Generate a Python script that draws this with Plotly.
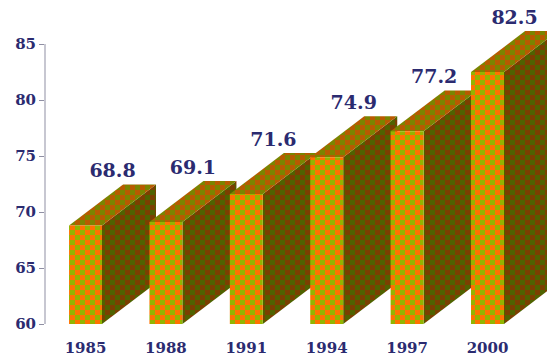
import plotly.graph_objects as go

years = ["1985", "1988", "1991", "1994", "1997", "2000"]
values = [68.8, 69.1, 71.6, 74.9, 77.2, 82.5]
y_ticks = [60, 65, 70, 75, 80, 85]

BAR_W = 0.41
DX = 0.672
DY = 3.66
INK = "#2b2b70"
AXIS = "#8f8fa3"
FONT = dict(family="DejaVu Serif", size=15, color=INK, weight="bold")
LABEL_FONT = dict(family="DejaVu Serif", size=19, color=INK, weight="bold")
FRONT = ("#ff7200", "#93b400")
TOP = ("#b85a00", "#7a8400")
SIDE = ("#7c3f00", "#4f6200")
BASE = 60

fig = go.Figure()


def face(xs, ys, colours):
    fig.add_trace(go.Scatter(
        x=xs + xs[:1], y=ys + ys[:1], mode="lines", fill="toself",
        line=dict(width=0), hoverinfo="skip", showlegend=False,
        fillcolor=colours[1],
        fillpattern=dict(shape="/", fgcolor=colours[0], bgcolor=colours[1],
                         size=10, solidity=0.5),
    ))


for i, v in enumerate(values):
    l, r = i - BAR_W / 2, i + BAR_W / 2
    face([r, r + DX, r + DX, r], [BASE, BASE + DY, v + DY, v], SIDE)
    face([l, r, r + DX, l + DX], [v, v, v + DY, v + DY], TOP)
    face([l, r, r, l], [BASE, BASE, v, v], FRONT)

fig.add_trace(go.Scatter(
    x=[i + DX / 2 for i in range(len(values))],
    y=[v + DY + 1.05 for v in values],
    text=[f"{v:.1f}" for v in values],
    mode="text", textposition="middle center", textfont=LABEL_FONT,
    hoverinfo="skip", showlegend=False,
))

fig.update_layout(
    width=547, height=358, autosize=False,
    margin=dict(l=45, r=0, t=0, b=34),
    paper_bgcolor="white", plot_bgcolor="white",
    showlegend=False,
    xaxis=dict(range=[-0.504, 5.74], tickmode="array",
               tickvals=list(range(len(years))), ticktext=years,
               showgrid=False, zeroline=False, showline=False,
               ticks="outside", ticklen=10, tickcolor="rgba(0,0,0,0)",
               tickfont=FONT),
    yaxis=dict(range=[60, 88.93], tickmode="array", tickvals=y_ticks,
               ticktext=[str(t) for t in y_ticks],
               showgrid=False, zeroline=False, showline=False,
               ticks="outside", ticklen=5, tickcolor=AXIS,
               tickfont=FONT),
    shapes=[dict(type="line", xref="x domain", yref="y", x0=0, x1=0,
                 y0=min(y_ticks), y1=max(y_ticks),
                 line=dict(color=AXIS, width=1))],
)

CHECKER = """
document.body.style.margin = '0';
document.querySelectorAll('pattern').forEach(function (p) {
  var path = p.querySelector('path'), rect = p.querySelector('rect');
  var fg = getComputedStyle(path).stroke, bg = getComputedStyle(rect).fill;
  if (!fg || fg === 'none') fg = path.getAttribute('stroke');
  if (!bg || bg === 'none') bg = rect.getAttribute('fill');
  var ns = 'http://www.w3.org/2000/svg';
  while (p.firstChild) p.removeChild(p.firstChild);
  p.setAttribute('width', 10); p.setAttribute('height', 10);
  [[0, 0, 10, bg], [0, 0, 5, fg], [5, 5, 5, fg]].forEach(function (c) {
    var r = document.createElementNS(ns, 'rect');
    r.setAttribute('x', c[0]); r.setAttribute('y', c[1]);
    r.setAttribute('width', c[2]); r.setAttribute('height', c[2]);
    r.setAttribute('fill', c[3]);
    p.appendChild(r);
  });
});
"""

fig.write_html("out.html", post_script=CHECKER, config=dict(displayModeBar=False))
